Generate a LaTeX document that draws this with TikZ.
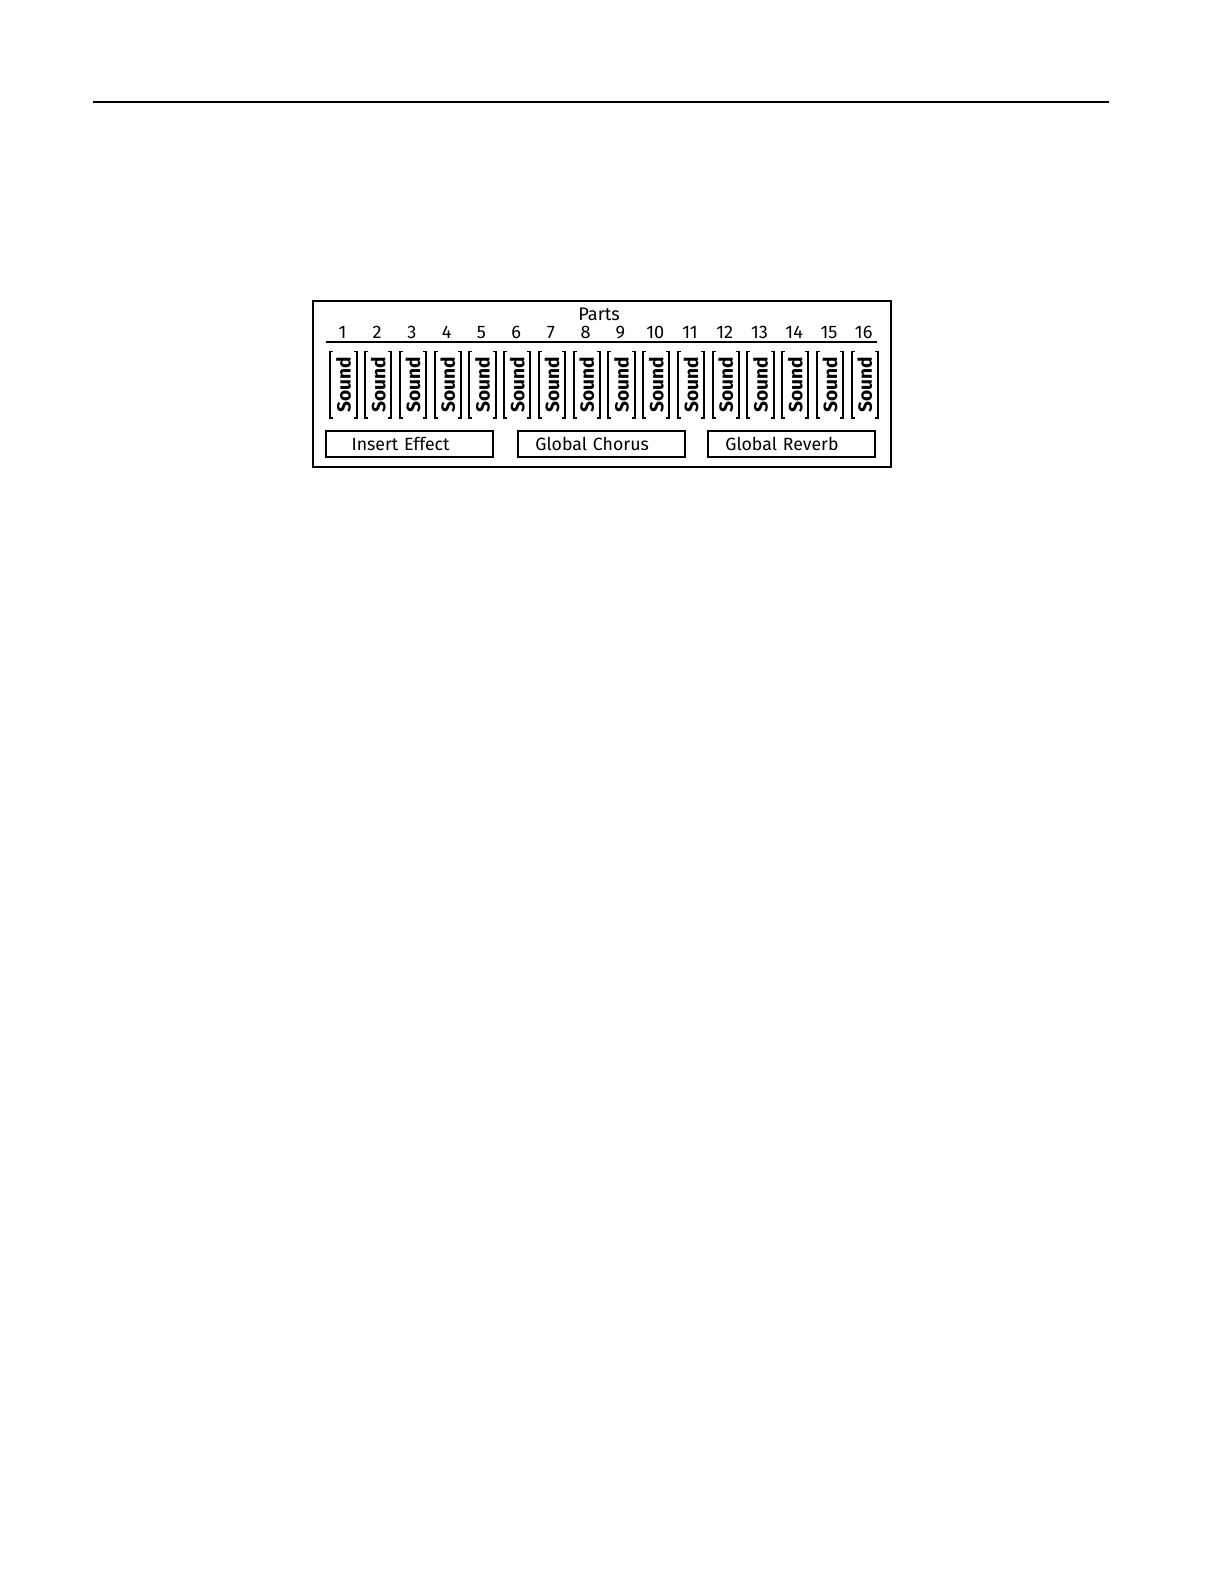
\documentclass[tikz,border=0pt]{standalone}
\usepackage{fontspec}
\setmainfont{Fira Sans}[BoldFont=Fira Sans Bold]
\begin{document}
\begin{tikzpicture}[x=0.5bp,y=-0.5bp,
    partnum/.style={inner sep=0pt,font=\fontsize{9}{10}\selectfont},
    soundtxt/.style={inner sep=0pt,rotate=90,font=\fontsize{9.5}{11}\selectfont\bfseries},
    fxbox/.style={draw,line width=1bp,text width=70bp,inner xsep=6.25bp,align=left,
      execute at begin node=\hspace*{2.25bp},
      minimum height=12.5bp,inner ysep=0pt,font=\fontsize{8.8}{10}\selectfont}]
      \useasboundingbox (0,0) rectangle (1212,1568);
      \draw[line width=1.4bp] (92,101) -- (1098,101);
%
      \draw[line width=1bp] (310,298) rectangle (882,462);
      \node[partnum] (parts) at (593,311) {Parts};
      \draw[line width=1bp] (323,339) -- (868,339);
%
      \foreach \i in {1,...,16} {
        \pgfmathsetmacro{\cx}{340+34.4*(\i-1)}
        \node[partnum] (num\i) at (\cx-1,329) {\i};
        \node[soundtxt] (snd\i) at (\cx,381) {Sound};
        \draw[line width=0.9bp] (\cx-10,348) -- (\cx-13,348) -- (\cx-13,414) -- (\cx-10,414);
        \draw[line width=0.9bp] (\cx+10,348) -- (\cx+13,348) -- (\cx+13,414) -- (\cx+10,414);
      }
%
      \node[fxbox,execute at begin node=\hspace*{4bp}] (insert) at (405.5,439.5) {Insert Effect};
      \node[fxbox] (chorus) at (595.5,439.5) {Global Chorus};
      \node[fxbox] (reverb) at (783.5,439.5) {Global Reverb};
%
      \end{tikzpicture}
\end{document}
